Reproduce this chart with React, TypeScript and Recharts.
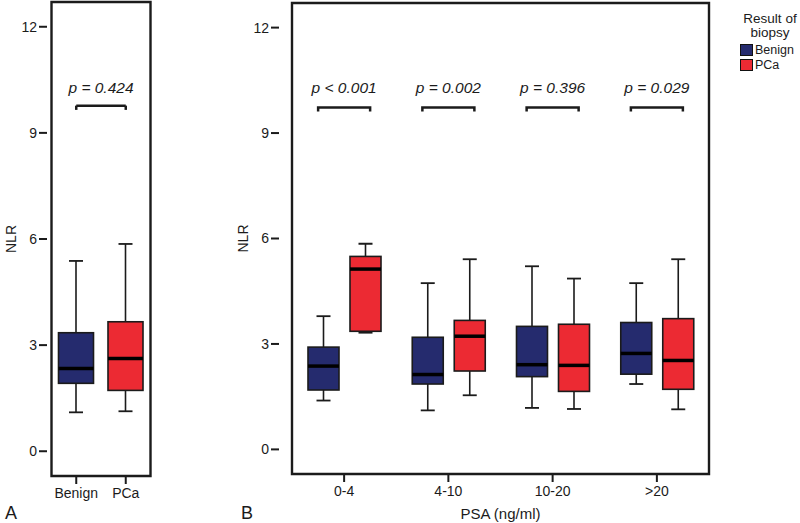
import React from 'react';
import {
  Bar,
  Cell,
  ComposedChart,
  Legend,
  ReferenceArea,
  ReferenceLine,
  Scatter,
  XAxis,
  YAxis,
} from 'recharts';

const FONT = '"Liberation Sans", Arial, sans-serif';
const NAVY = '#252b6e';
const RED = '#ec2a33';
const INK = '#1b1b1b';

// panel A: all patients
const overallGroups = ['Benign', 'PCa'];
const overallMin = [1.1, 1.13];
const overallQ1 = [1.92, 1.72];
const overallMedian = [2.34, 2.62];
const overallQ3 = [3.35, 3.66];
const overallMax = [5.38, 5.86];
const overallP = 'p = 0.424';
const overallBracket = 9.77;

// panel B: by PSA level
const psaGroups = ['0-4', '4-10', '10-20', '>20'];
const benignMin = [1.39, 1.11, 1.18, 1.86];
const benignQ1 = [1.69, 1.86, 2.07, 2.14];
const benignMedian = [2.37, 2.13, 2.41, 2.73];
const benignQ3 = [2.91, 3.19, 3.5, 3.61];
const benignMax = [3.79, 4.73, 5.21, 4.73];
const pcaMin = [3.32, 1.54, 1.15, 1.14];
const pcaQ1 = [3.36, 2.23, 1.65, 1.71];
const pcaMedian = [5.13, 3.22, 2.39, 2.53];
const pcaQ3 = [5.49, 3.67, 3.56, 3.72];
const pcaMax = [5.85, 5.41, 4.86, 5.41];
const psaP = ['p < 0.001', 'p = 0.002', 'p = 0.396', 'p = 0.029'];
const psaBracket = [9.73, 9.73, 9.73, 9.73];

const yTicks = [0, 3, 6, 9, 12];
const yDomain: [number, number] = [-0.7, 12.7];

type Stats = { min: number; q1: number; median: number; q3: number; max: number };

const pick = (
  mins: number[],
  q1s: number[],
  meds: number[],
  q3s: number[],
  maxs: number[],
  i: number
): Stats => ({ min: mins[i], q1: q1s[i], median: meds[i], q3: q3s[i], max: maxs[i] });

const overallData = overallGroups.map((group, i) => {
  const s = pick(overallMin, overallQ1, overallMedian, overallQ3, overallMax, i);
  return { group, range: [s.min, s.max], box: s };
});

const psaData = psaGroups.map((psa, i) => {
  const b = pick(benignMin, benignQ1, benignMedian, benignQ3, benignMax, i);
  const p = pick(pcaMin, pcaQ1, pcaMedian, pcaQ3, pcaMax, i);
  return {
    psa,
    benignRange: [b.min, b.max],
    benignBox: b,
    pcaRange: [p.min, p.max],
    pcaBox: p,
    bracket: psaBracket[i],
    pLabel: psaP[i],
  };
});

// the bar spans min..max; the rest of the box is placed on that same scale
function boxShape(boxKey: string) {
  return (props: any) => {
    const { x, y, width, height, payload, fill } = props;
    const s: Stats = payload[boxKey];
    const top = Math.min(y, y + height);
    const bottom = Math.max(y, y + height);
    const py = (v: number) => bottom - ((v - s.min) / (s.max - s.min)) * (bottom - top);
    const cx = x + width / 2;
    const cap = 7;
    return (
      <g>
        <line x1={cx} x2={cx} y1={py(s.max)} y2={py(s.q3)} stroke={INK} strokeWidth={1.6} />
        <line x1={cx} x2={cx} y1={py(s.q1)} y2={py(s.min)} stroke={INK} strokeWidth={1.6} />
        <line x1={cx - cap} x2={cx + cap} y1={py(s.max)} y2={py(s.max)} stroke={INK} strokeWidth={1.8} />
        <line x1={cx - cap} x2={cx + cap} y1={py(s.min)} y2={py(s.min)} stroke={INK} strokeWidth={1.8} />
        <rect
          x={x}
          y={py(s.q3)}
          width={width}
          height={py(s.q1) - py(s.q3)}
          fill={fill}
          stroke={INK}
          strokeWidth={1.6}
        />
        <line x1={x} x2={x + width} y1={py(s.median)} y2={py(s.median)} stroke="#000" strokeWidth={3.5} />
      </g>
    );
  };
}

const bracketShape = (props: any) => {
  const { cx, cy, payload } = props;
  return (
    <g>
      <path
        d={`M${cx - 26},${cy + 4} V${cy} H${cx + 26} V${cy + 4}`}
        stroke={INK}
        strokeWidth={2.5}
        fill="none"
      />
      <text
        x={cx}
        y={cy - 14}
        textAnchor="middle"
        fontStyle="italic"
        fontSize={15.5}
        fontFamily={FONT}
        fill={INK}
      >
        {payload.pLabel}
      </text>
    </g>
  );
};

const yLabel = (props: any) => {
  const { viewBox } = props;
  const x = viewBox.x + viewBox.width - 36;
  const y = viewBox.y + viewBox.height / 2;
  return (
    <text
      x={x}
      y={y}
      transform={`rotate(-90 ${x} ${y})`}
      textAnchor="middle"
      dominantBaseline="central"
      fontSize={14}
      fontFamily={FONT}
      fill={INK}
    >
      NLR
    </text>
  );
};

const legendContent = (props: any) => (
  <div style={{ fontFamily: FONT, fontSize: 13.5, color: INK }}>
    <div style={{ textAlign: 'center', lineHeight: '14px', width: 60 }}>
      Result of
      <br />
      biopsy
    </div>
    <div style={{ marginTop: 3 }}>
      {(props.payload || [])
        .filter((item: any) => item.type !== 'none' && item.dataKey !== 'bracket')
        .map((item: any) => (
          <div key={item.value} style={{ display: 'flex', alignItems: 'center', height: 14.5 }}>
            <span
              style={{
                display: 'inline-block',
                width: 11,
                height: 10,
                background: item.color,
                border: '1px solid #111',
                marginRight: 2,
              }}
            />
            <span style={{ lineHeight: '14px', fontSize: 12.5 }}>{item.value}</span>
          </div>
        ))}
    </div>
  </div>
);

const tickStyle = { fill: INK, fontSize: 14, fontFamily: FONT };
const tickLineStyle = { stroke: INK, strokeWidth: 2 };

function OverallPanel() {
  return (
    <ComposedChart width={170} height={523} data={overallData} margin={{ top: 2, right: 15, bottom: 17, left: 17 }}>
      <XAxis
        dataKey="group"
        type="category"
        interval={0}
        height={30}
        padding={{ left: 4.5, right: 4.5 }}
        tickSize={8}
        tickMargin={4}
        axisLine={false}
        tickLine={tickLineStyle}
        tick={tickStyle}
      />
      <YAxis
        type="number"
        domain={yDomain}
        ticks={yTicks}
        allowDataOverflow
        width={30}
        tickSize={8}
        axisLine={false}
        tickLine={tickLineStyle}
        tick={tickStyle}
        label={yLabel}
      />
      <ReferenceArea y1={yDomain[0]} y2={yDomain[1]} fill="none" stroke={INK} strokeWidth={2.4} ifOverflow="visible" />
      <Bar dataKey="range" barSize={35} shape={boxShape('box')} isAnimationActive={false}>
        {overallData.map((d, i) => (
          <Cell key={d.group} fill={i === 0 ? NAVY : RED} />
        ))}
      </Bar>
      <ReferenceLine
        segment={[
          { x: 'Benign', y: overallBracket },
          { x: 'PCa', y: overallBracket },
        ]}
        stroke={INK}
        strokeWidth={2.5}
        label={{
          value: overallP,
          position: 'top',
          offset: 13,
          fontStyle: 'italic',
          fontSize: 15.5,
          fontFamily: FONT,
          fill: INK,
        }}
      />
      <ReferenceLine
        segment={[
          { x: 'Benign', y: overallBracket },
          { x: 'Benign', y: overallBracket - 0.12 },
        ]}
        stroke={INK}
        strokeWidth={2.5}
      />
      <ReferenceLine
        segment={[
          { x: 'PCa', y: overallBracket },
          { x: 'PCa', y: overallBracket - 0.12 },
        ]}
        stroke={INK}
        strokeWidth={2.5}
      />
    </ComposedChart>
  );
}

function PsaPanel() {
  return (
    <ComposedChart
      width={600}
      height={523}
      data={psaData}
      barGap={11}
      margin={{ top: 3, right: 78, bottom: 19, left: 49 }}
    >
      <XAxis
        dataKey="psa"
        type="category"
        interval={0}
        height={30}
        padding={{ left: 13, right: 13 }}
        tickSize={8}
        tickMargin={4}
        axisLine={false}
        tickLine={tickLineStyle}
        tick={tickStyle}
        label={{ value: 'PSA (ng/ml)', position: 'bottom', offset: 4, fontSize: 15, fontFamily: FONT, fill: INK }}
      />
      <YAxis
        type="number"
        domain={yDomain}
        ticks={yTicks}
        allowDataOverflow
        width={30}
        tickSize={8}
        axisLine={false}
        tickLine={tickLineStyle}
        tick={tickStyle}
        label={yLabel}
      />
      <ReferenceArea y1={yDomain[0]} y2={yDomain[1]} fill="none" stroke={INK} strokeWidth={2.4} ifOverflow="visible" />
      <Bar
        dataKey="benignRange"
        name="Benign"
        fill={NAVY}
        barSize={31}
        shape={boxShape('benignBox')}
        isAnimationActive={false}
      />
      <Bar
        dataKey="pcaRange"
        name="PCa"
        fill={RED}
        barSize={31}
        shape={boxShape('pcaBox')}
        isAnimationActive={false}
      />
      <Scatter dataKey="bracket" legendType="none" shape={bracketShape} isAnimationActive={false} />
      <Legend
        layout="vertical"
        align="center"
        verticalAlign="middle"
        content={legendContent}
        wrapperStyle={{ left: 540, top: 12, width: 60 }}
      />
    </ComposedChart>
  );
}

export default function App() {
  return (
    <div style={{ position: 'absolute', left: 0, top: 0, width: 800, height: 523, background: '#fff', fontFamily: FONT }}>
      <div style={{ position: 'absolute', left: 0, top: 0 }}>
        <OverallPanel />
      </div>
      <div style={{ position: 'absolute', left: 200, top: 0 }}>
        <PsaPanel />
      </div>
      <div style={{ position: 'absolute', left: 5, top: 504, fontSize: 18, lineHeight: 1, color: INK }}>A</div>
      <div style={{ position: 'absolute', left: 241, top: 504, fontSize: 18, lineHeight: 1, color: INK }}>B</div>
    </div>
  );
}
